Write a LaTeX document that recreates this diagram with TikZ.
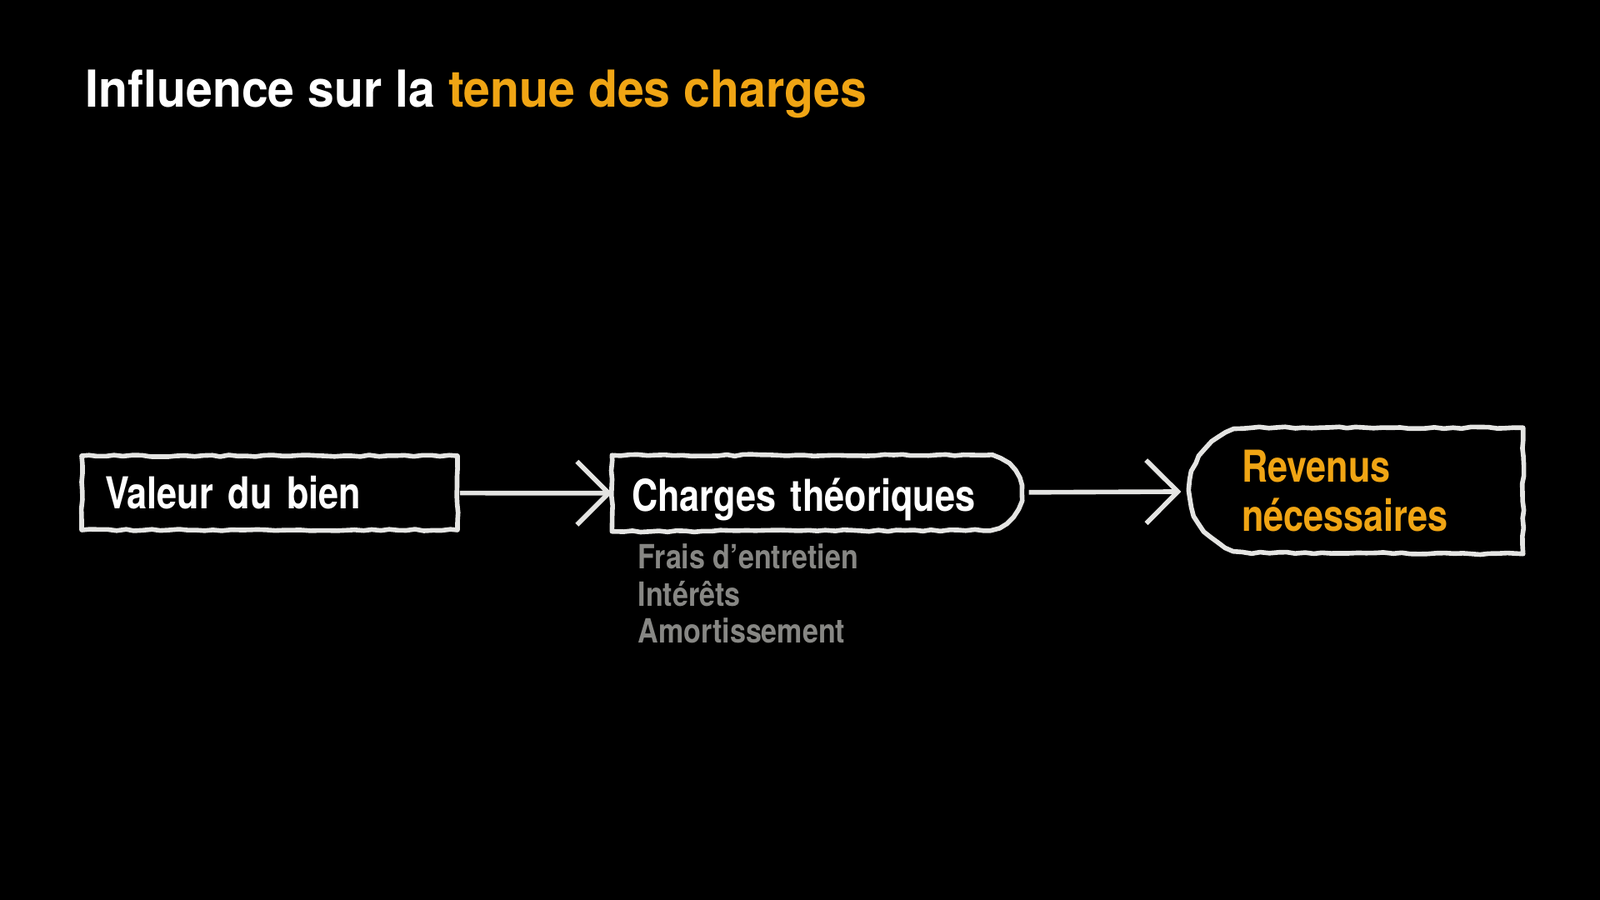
\documentclass[tikz,border=0pt]{standalone}
\usepackage{fontspec}
\setmainfont{TeX Gyre Heros}[FakeStretch=0.82, WordSpace=0.7]
\newfontfamily\titlefont{TeX Gyre Heros}[FakeStretch=0.935]
\newfontfamily\notefont{TeX Gyre Heros}[FakeStretch=0.85]
\usetikzlibrary{arrows.meta,decorations.pathmorphing}
\definecolor{chalk}{RGB}{228,228,226}
\definecolor{accent}{RGB}{240,165,20}
\definecolor{note}{RGB}{135,135,132}
\begin{document}
\begin{tikzpicture}[
    chalkline/.style={draw=chalk, line width=1.6pt, line join=round, decorate,
      decoration={random steps, segment length=3pt, amplitude=0.3pt}},
    arrowline/.style={draw=chalk, line width=1.6pt, -{Straight Barb[length=0.38cm, width=0.76cm]}},
    box/.style={text=white, font=\bfseries\fontsize{15}{17}\selectfont, align=left, inner ysep=0pt},
    oneline/.style={text height=0.5cm, text depth=0.12cm},
  ]
    \fill[black] (0,0) rectangle (19.2,10.8);

    \node[anchor=base west, inner sep=0pt, text=white, font=\titlefont\bfseries\fontsize{17.4}{21}\selectfont] (ttl) at (1.02,9.51) {Influence sur la \textcolor{accent}{tenue des charges}};

    \node[box, oneline, chalkline, minimum width=4.51cm, minimum height=0.89cm, text width=3.95cm, inner xsep=0.28cm] (val) at (3.235,4.885) {Valeur du bien};
    \node[box, oneline, text depth=0.06cm, minimum width=4.90cm, minimum height=0.90cm, text width=4.44cm, inner xsep=0.23cm] (ch) at (9.80,4.88) {Charges théoriques};
    \node[box, text=accent, minimum width=3.99cm, minimum height=1.50cm, text width=2.75cm, inner xsep=0.62cm] (rev) at (16.275,4.91) {Revenus\\nécessaires};

    % rounded ends
    \draw[chalkline] (ch.north west) -- ([xshift=-0.45cm]ch.north east) arc[start angle=90, end angle=-90, radius=0.45cm] -- (ch.south west) -- cycle;
    \draw[chalkline] (rev.north east) -- ([xshift=0.75cm]rev.north west) arc[start angle=90, end angle=270, radius=0.75cm] -- (rev.south east) -- cycle;

    \node[anchor=base west, inner sep=0pt, align=left, text=note, font=\notefont\bfseries\fontsize{11.4}{12.8}\selectfont] (lst) at (7.65,3.08) {Frais d’entretien\\Intérêts\\Amortissement};

    \path (val) edge[arrowline] (ch);
    \path (ch) edge[arrowline, shorten <=0.09cm, shorten >=0.1cm] (rev);
\end{tikzpicture}
\end{document}
